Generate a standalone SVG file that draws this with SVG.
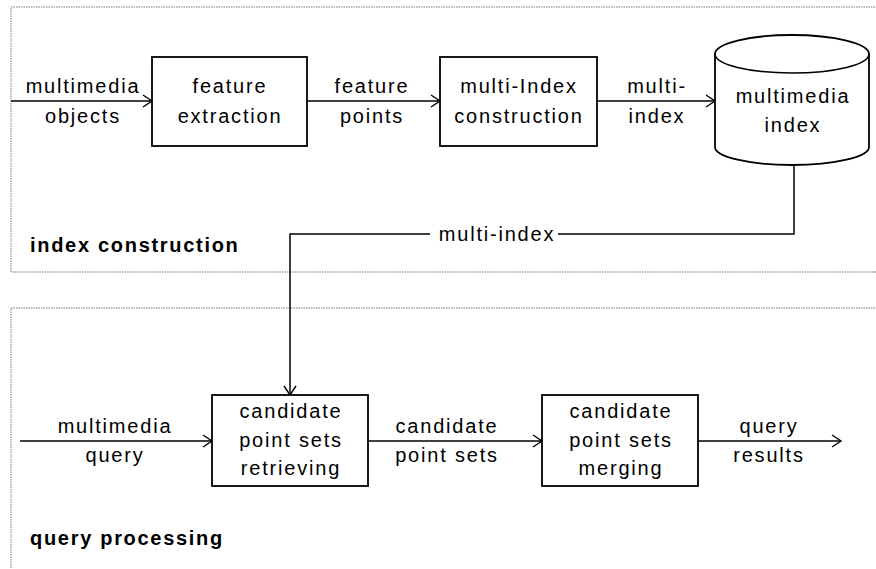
<svg xmlns="http://www.w3.org/2000/svg" width="876" height="569" viewBox="0 0 876 569">
<defs>
<marker id="arr" markerUnits="userSpaceOnUse" markerWidth="12" markerHeight="14" refX="10" refY="7" orient="auto">
<path d="M1,1 L10,7 L1,13" fill="none" stroke="#000" stroke-width="1.4"/>
</marker>
<style>
.t{font-family:"Liberation Sans",Arial,sans-serif;font-size:20px;letter-spacing:1.8px;fill:#000;text-anchor:middle}
.b{font-family:"Liberation Sans",Arial,sans-serif;font-size:20px;font-weight:bold;letter-spacing:1.7px;fill:#000}
.box{fill:#fff;stroke:#000;stroke-width:1.8}
.ln{fill:none;stroke:#000;stroke-width:1.5}
.dot{fill:none;stroke:#777;stroke-width:1;stroke-dasharray:1.5 1}
</style>
</defs>
<rect width="876" height="569" fill="#fff"/>
<g id="region-index">
<path class="dot" d="M880,7 H11 V272 H880"/>
<text class="b" x="30" y="252">index construction</text>
</g>
<g id="region-query">
<path class="dot" d="M880,308 H11 V575"/>
<text class="b" x="30" y="545">query processing</text>
</g>
<g id="connectors">
<line class="ln" x1="11" y1="101" x2="152" y2="101" marker-end="url(#arr)"/>
<line class="ln" x1="307" y1="101" x2="440" y2="101" marker-end="url(#arr)"/>
<line class="ln" x1="597" y1="101" x2="715" y2="101" marker-end="url(#arr)"/>
<path class="ln" d="M794,165 V234 H558"/>
<path class="ln" d="M430,234 H290 V395" marker-end="url(#arr)"/>
<line class="ln" x1="20" y1="441" x2="212" y2="441" marker-end="url(#arr)"/>
<line class="ln" x1="368" y1="441" x2="542" y2="441" marker-end="url(#arr)"/>
<line class="ln" x1="698" y1="441" x2="841" y2="441" marker-end="url(#arr)"/>
<text class="t" x="83" y="93">multimedia</text>
<text class="t" x="83" y="123">objects</text>
<text class="t" x="372" y="93">feature</text>
<text class="t" x="372" y="123">points</text>
<text class="t" x="657" y="93">multi-</text>
<text class="t" x="657" y="123">index</text>
<text class="t" x="497" y="241">multi-index</text>
<text class="t" x="115" y="433">multimedia</text>
<text class="t" x="115" y="462">query</text>
<text class="t" x="447" y="433">candidate</text>
<text class="t" x="447" y="462">point sets</text>
<text class="t" x="769" y="433">query</text>
<text class="t" x="769" y="462">results</text>
</g>
<g id="feature-extraction">
<rect class="box" x="152" y="57" width="155" height="89"/>
<text class="t" x="230" y="93">feature</text>
<text class="t" x="230" y="123">extraction</text>
</g>
<g id="multi-index-construction">
<rect class="box" x="440" y="57" width="157" height="89"/>
<text class="t" x="519" y="93">multi-Index</text>
<text class="t" x="519" y="123">construction</text>
</g>
<g id="multimedia-index">
<path class="box" d="M715,54 V147 A77,18 0 0 0 869,147 V54 A77,19 0 0 0 715,54 Z"/>
<path class="ln" d="M715,54 A77,19 0 0 0 869,54" stroke-width="1.8"/>
<text class="t" x="793" y="103">multimedia</text>
<text class="t" x="793" y="132">index</text>
</g>
<g id="candidate-retrieving">
<rect class="box" x="212" y="395" width="156" height="91"/>
<text class="t" x="291" y="418">candidate</text>
<text class="t" x="291" y="447">point sets</text>
<text class="t" x="291" y="475">retrieving</text>
</g>
<g id="candidate-merging">
<rect class="box" x="542" y="395" width="156" height="91"/>
<text class="t" x="621" y="418">candidate</text>
<text class="t" x="621" y="447">point sets</text>
<text class="t" x="621" y="475">merging</text>
</g>
</svg>
